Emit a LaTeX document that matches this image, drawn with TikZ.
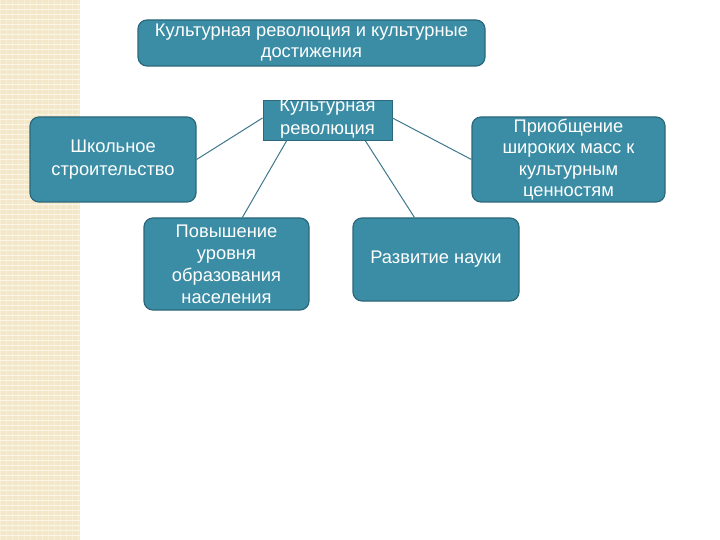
\documentclass[tikz,border=0pt]{standalone}
\usepackage{fontspec}
\setmainfont{Liberation Sans}
\usetikzlibrary{calc}
\definecolor{boxfill}{RGB}{59,141,165}
\definecolor{boxdraw}{RGB}{44,104,124}
\definecolor{stripe}{RGB}{244,231,200}
\definecolor{stripelight}{RGB}{251,246,230}
\definecolor{lineclr}{RGB}{62,120,140}
\begin{document}
\begin{tikzpicture}[x=1pt,y=-1pt,
  rbox/.style={draw=boxdraw,line width=1.2pt,fill=boxfill,rounded corners=9pt,text=white,align=center,font=\fontsize{18.3}{22}\selectfont,inner sep=0pt},
  sbox/.style={draw=boxdraw,line width=1pt,fill=boxfill,inner sep=0pt},
  conn/.style={draw=lineclr,line width=1pt}]
\useasboundingbox (0,0) rectangle (720,540);
\fill[white] (0,0) rectangle (720,540);
\fill[stripe] (0,0) rectangle (80,540);
\foreach \y in {0,5,...,540} {\draw[stripelight,line width=1pt] (0,\y) -- (80,\y);}
\foreach \x in {0,6,...,80} {\draw[stripelight,line width=0.5pt,opacity=0.5] (\x,0) -- (\x,540);}
% boxes
\node[rbox,minimum width=347pt,minimum height=46pt,font=\fontsize{18.3}{21}\selectfont] (top) at (311.5,43) {Культурная революция и культурные\\достижения};
\node[sbox,minimum width=129pt,minimum height=40pt,anchor=north] (rev) at (327.5,100) {};
\node[text=white,align=center,font=\fontsize{18.3}{23}\selectfont,inner sep=0pt] (revtext) at (327.5,119) {Культурная\\революция};
\node[rbox,minimum width=166pt,minimum height=85pt,font=\fontsize{18.3}{23}\selectfont] (school) at (113,159.5) {Школьное\\строительство};
\node[rbox,minimum width=193pt,minimum height=85pt,font=\fontsize{18.3}{21.5}\selectfont] (masses) at (568.5,159.5) {Приобщение\\широких масс к\\культурным\\ценностям};
\node[rbox,minimum width=165pt,minimum height=92pt] (edu) at (226.5,264) {Повышение\\уровня\\образования\\населения};
\node[rbox,minimum width=166pt,minimum height=83pt] (sci) at (436,259.5) {Развитие науки};
% connectors
\draw[conn] ($(rev.north west)+(0,18)$) -- (school.east);
\draw[conn] ($(rev.north east)+(0,18)$) -- (masses.west);
\draw[conn] ($(rev.south west)+(24,0)$) -- ($(edu.north west)+(99,0)$);
\draw[conn] ($(rev.south east)+(-27,0)$) -- ($(sci.north west)+(62,0)$);
\end{tikzpicture}
\end{document}
